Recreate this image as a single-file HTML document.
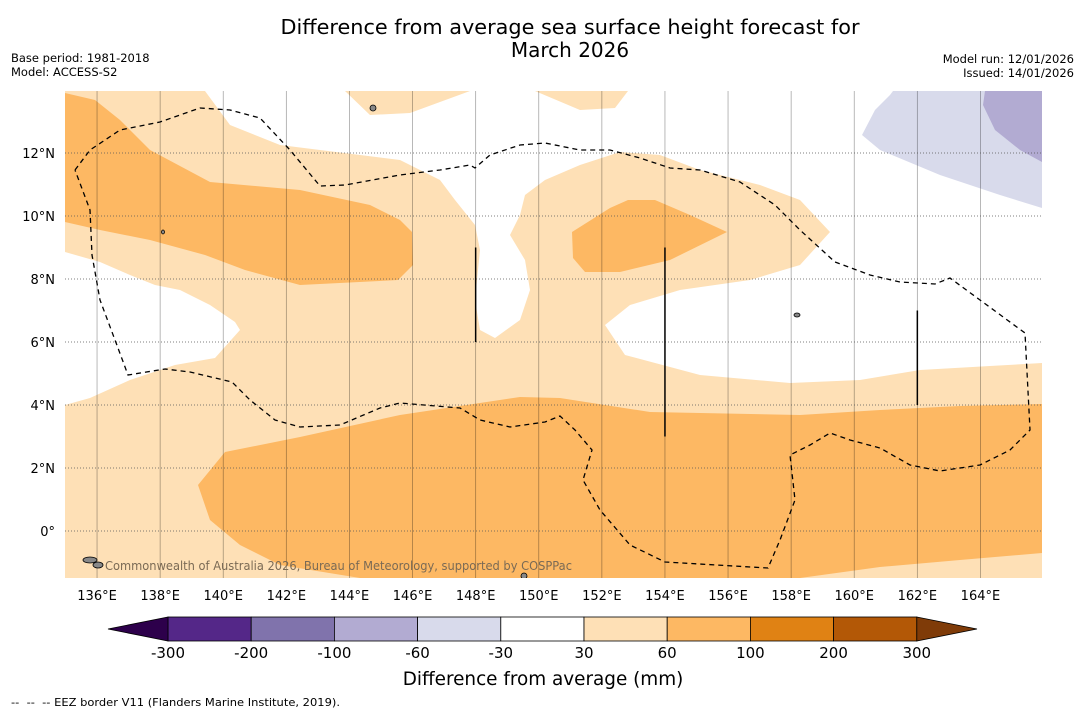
<!DOCTYPE html>
<html><head><meta charset="utf-8">
<style>
body{margin:0;background:#fff;width:1085px;height:713px;overflow:hidden;font-family:"Liberation Sans",sans-serif;}
svg text{font-family:"DejaVu Sans","Liberation Sans",sans-serif;}
</style></head>
<body>
<svg id="chart" width="1085" height="713" xmlns="http://www.w3.org/2000/svg">
<text x="570" y="34" font-size="20" text-anchor="middle" textLength="579" lengthAdjust="spacingAndGlyphs">Difference from average sea surface height forecast for</text>
<text x="570" y="57" font-size="20" text-anchor="middle">March 2026</text>
<text x="11" y="62" font-size="11.5">Base period: 1981-2018</text>
<text x="11" y="76" font-size="11.5">Model: ACCESS-S2</text>
<text x="1074" y="63" font-size="11.5" text-anchor="end">Model run: 12/01/2026</text>
<text x="1074" y="77" font-size="11.5" text-anchor="end">Issued: 14/01/2026</text>
<g id="map"></g>
<g id="cbar"></g>
<text x="543" y="685" font-size="18.4" text-anchor="middle">Difference from average (mm)</text>
<text x="11" y="706" font-size="11" textLength="329" lengthAdjust="spacingAndGlyphs" xml:space="preserve">--  --  -- EEZ border V11 (Flanders Marine Institute, 2019).</text>
</svg>
<script>
const lonTicks=[136,138,140,142,144,146,148,150,152,154,156,158,160,162,164];
const latTicks=[0,2,4,6,8,10,12];
const cbLevels=[-300,-200,-100,-60,-30,30,60,100,200,300];
const cbColors=["#542788","#8073ac","#b2abd2","#d8daeb","#ffffff","#fee0b6","#fdb863","#e08214","#b35806"];
const P=(pts)=>pts.map(p=>[135+(p[0]-65.5)/31.55,(531-p[1])/31.5]);
const whiteTop=P([[205,91],[230,125],[280,145],[400,160],[440,180],[455,200],[475,225],[480,250],[475,300],[480,330],[495,338],[520,320],[530,290],[525,260],[510,235],[520,215],[525,195],[545,180],[580,165],[620,152],[660,155],[700,170],[760,185],[800,200],[830,232],[800,265],[750,280],[680,290],[630,305],[605,325],[625,355],[700,375],[790,383],[860,380],[920,370],[990,366],[1042,363],[1042,91],[628,91],[615,108],[580,110],[535,91],[470,91],[410,113],[370,115],[345,91]]);
const whiteLeft=P([[65,405],[90,398],[130,380],[175,365],[215,358],[240,330],[235,322],[210,305],[180,290],[155,285],[130,275],[100,262],[65,252]]);
const purpleLight=P([[862,135],[875,110],[890,95],[893,91],[1042,91],[1042,208],[1000,195],[940,175],[880,150]]);
const purpleMid=P([[985,91],[1042,91],[1042,162],[1020,150],[995,130],[983,105]]);
const orange1=P([[65,93],[95,100],[120,120],[150,150],[210,182],[300,190],[370,205],[400,220],[412,232],[413,265],[398,280],[300,285],[245,270],[205,255],[150,240],[100,230],[65,222]]);
const orange2=P([[572,232],[610,208],[628,200],[655,200],[690,215],[727,232],[670,260],[620,272],[585,272],[573,258]]);
const orange3=P([[198,485],[225,452],[300,437],[400,415],[520,397],[560,398],[650,412],[800,415],[880,410],[960,406],[1042,404],[1042,553],[960,560],[880,567],[800,578],[360,578],[280,565],[240,545],[210,520]]);
const eez=P([[75,170],[90,150],[120,130],[160,122],[200,108],[230,110],[260,118],[290,150],[320,186],[345,185],[400,175],[440,170],[470,165],[475,168],[490,155],[520,145],[545,143],[580,150],[610,150],[640,158],[670,168],[700,170],[740,182],[775,205],[800,230],[835,262],[870,275],[900,282],[935,284],[950,278],[980,300],[1025,333],[1030,430],[1010,450],[980,465],[940,471],[910,465],[880,448],[850,440],[830,433],[810,445],[790,455],[795,500],[780,540],[768,568],[665,562],[630,545],[600,510],[583,480],[592,450],[575,430],[560,416],[545,422],[510,427],[480,420],[460,408],[400,403],[380,408],[340,425],[300,427],[275,420],[250,400],[232,382],[190,372],[165,369],[128,375],[115,340],[100,300],[92,255],[90,210],[75,170]]);
const segLines=[[148,9,6],[154,9,3],[162,7,4]];

const X0=65.5,Y0=531,KX=31.55,KY=31.5,L=65,R=1042,T=91,B=578;
const xs=lon=>X0+(lon-135)*KX, ys=lat=>Y0-lat*KY;
const NS="http://www.w3.org/2000/svg";
function mk(tag,attrs,parent){const e=document.createElementNS(NS,tag);for(const k in attrs)e.setAttribute(k,attrs[k]);parent.appendChild(e);return e;}
const map=document.getElementById('map');
const defs=mk('defs',{},map);
const cp=mk('clipPath',{id:'clip'},defs);
mk('rect',{x:L,y:T,width:R-L,height:B-T},cp);
const g=mk('g',{'clip-path':'url(#clip)'},map);
const bg=mk('rect',{x:L,y:T,width:R-L,height:B-T,fill:'#fee0b6'},g);


const pts=a=>a.map(p=>xs(p[0]).toFixed(1)+','+ys(p[1]).toFixed(1)).join(' ');
[[whiteTop,'#ffffff','near-average-region-north'],[whiteLeft,'#ffffff','near-average-region-west'],[purpleLight,'#d8daeb','below-average-region'],[purpleMid,'#b2abd2','below-average-region-strong'],[orange1,'#fdb863','above-average-region-west'],[orange2,'#fdb863','above-average-region-central'],[orange3,'#fdb863','above-average-region-south']].forEach(([a,c,n])=>{
 const e=mk('polygon',{points:pts(a),fill:c},g);
 
 
});
lonTicks.forEach(lon=>{
 const e=mk('line',{x1:xs(lon),x2:xs(lon),y1:T,y2:B,stroke:'#000','stroke-opacity':0.35,'stroke-width':0.8},g);
 
 
 const t=mk('text',{x:xs(lon),y:600,'font-size':13,'text-anchor':'middle'},map);
 t.textContent=lon+'°E';
 
 
});
latTicks.forEach(lat=>{
 const e=mk('line',{x1:L,x2:R,y1:ys(lat),y2:ys(lat),stroke:'#555','stroke-width':0.8,'stroke-dasharray':'1,2'},g);
 
 
 const t=mk('text',{x:55,y:ys(lat)+5,'font-size':13,'text-anchor':'end'},map);
 t.textContent=lat===0?'0°':lat+'°N';
 
 
});
const ez=mk('polyline',{points:pts(eez),fill:'none',stroke:'#000','stroke-width':1.3,'stroke-dasharray':'5,4'},g);


segLines.forEach(s=>{
 const e=mk('line',{x1:xs(s[0]),x2:xs(s[0]),y1:ys(s[1]),y2:ys(s[2]),stroke:'#000','stroke-width':1.5},g);
 
 
});
[[373,108,3,3],[90,560,7,3],[98,565,5,3],[524,576,3,3],[797,315,3,2],[163,232,1.5,2]].forEach(i=>{
 const e=mk('ellipse',{cx:i[0],cy:i[1],rx:i[2],ry:i[3],fill:'#888',stroke:'#000','stroke-width':0.8},g);
 
 
});
const wm=mk('text',{x:105,y:570,'font-size':12,fill:'#7a6a55',textLength:467,lengthAdjust:'spacingAndGlyphs'},g);
wm.textContent='Commonwealth of Australia 2026, Bureau of Meteorology, supported by COSPPac';



const cb=document.getElementById('cbar');
const cx0=168,cw=83.2,cy=617,ch=24;
cbColors.forEach((c,i)=>{
 const e=mk('rect',{x:cx0+i*cw,y:cy,width:cw,height:ch,fill:c,stroke:'#000','stroke-width':0.8},cb);
 
 
});
const le=mk('polygon',{points:`${cx0},${cy} 108,${cy+ch/2} ${cx0},${cy+ch}`,fill:'#2d004b',stroke:'#000','stroke-width':0.8},cb);


const xe=cx0+cbColors.length*cw;
const re=mk('polygon',{points:`${xe},${cy} 977,${cy+ch/2} ${xe},${cy+ch}`,fill:'#7f3b08',stroke:'#000','stroke-width':0.8},cb);


cbLevels.forEach((v,i)=>{
 const t=mk('text',{x:cx0+i*cw,y:658,'font-size':15,'text-anchor':'middle'},cb);
 t.textContent=v;
 
 
});
</script>
</body></html>
